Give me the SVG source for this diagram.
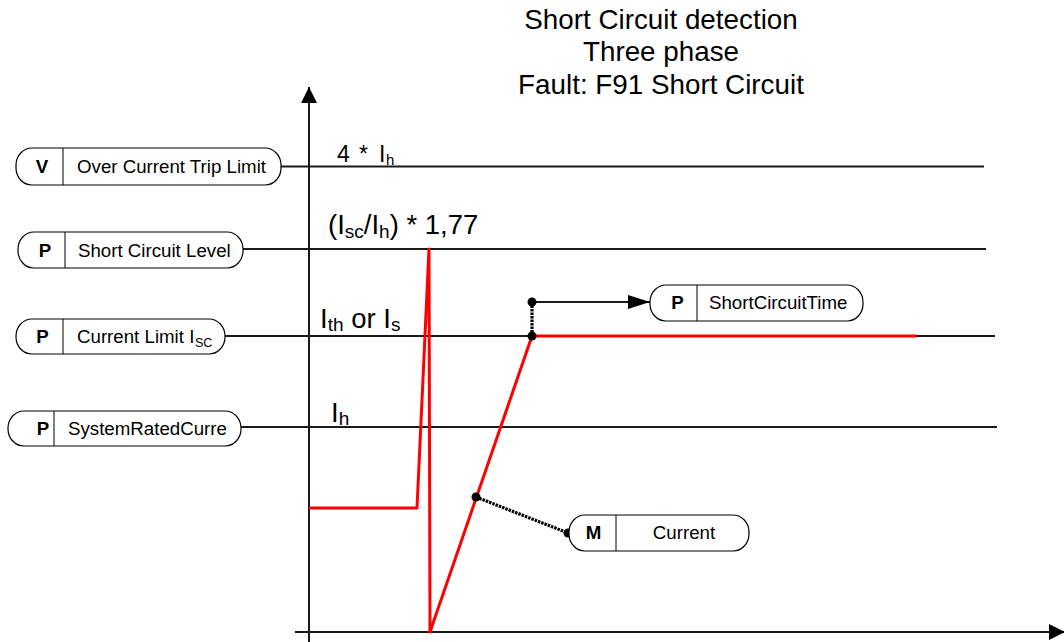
<svg xmlns="http://www.w3.org/2000/svg" width="1064" height="642" viewBox="0 0 1064 642">
<style>
  text { font-family: "Liberation Sans", Arial, sans-serif; fill: #000; }
  .title { font-size: 27.8px; text-anchor: middle; }
  .lbl { font-size: 27.5px; }
  .sub { font-size: 19px; }
  .nt { font-size: 18.7px; }
  .nb { font-size: 18.7px; font-weight: bold; text-anchor: middle; }
  .pill { fill: #fff; stroke: #000; stroke-width: 1.2; }
  .div { stroke: #000; stroke-width: 1; }
  .ln { stroke: #1a1a1a; stroke-width: 2; fill: none; }
  .red { stroke: #ff0000; stroke-width: 3; fill: none; stroke-linejoin: round; }
  .dot { stroke: #000; stroke-width: 3.2; stroke-dasharray: 2.5 1; fill: none; }
</style>
<defs>
  <marker id="ah" markerWidth="22" markerHeight="14" refX="22" refY="7" orient="auto" markerUnits="userSpaceOnUse">
    <path d="M0,0 L22,7 L0,14 Z" fill="#000"/>
  </marker>
  <marker id="ax" markerWidth="16" markerHeight="22" refX="16" refY="8" orient="auto" markerUnits="userSpaceOnUse">
    <path d="M0,0 L16,8 L0,16 Z" fill="#000"/>
  </marker>
</defs>
<rect width="1064" height="642" fill="#fff"/>

<g id="title">
  <text class="title" x="661" y="29">Short Circuit detection</text>
  <text class="title" x="661" y="61">Three phase</text>
  <text class="title" x="661" y="94">Fault: F91 Short Circuit</text>
</g>

<g id="axes">
  <line class="ln" x1="309" y1="642" x2="309" y2="87" marker-end="url(#ax)"/>
  <line class="ln" x1="295" y1="632" x2="1065" y2="632" marker-end="url(#ax)"/>
</g>

<g id="connectors">
  <line class="ln" x1="281" y1="166.5" x2="984" y2="166.5"/>
  <line class="ln" x1="243" y1="249" x2="986" y2="249"/>
  <line class="ln" x1="225" y1="336" x2="995" y2="336"/>
  <line class="ln" x1="241" y1="427" x2="997" y2="427"/>
  <path class="red" d="M309,508 H417 L429,249 L430,632 L532,336 H917"/>
  <line class="dot" x1="532" y1="302" x2="532" y2="336"/>
  <line class="ln" x1="532" y1="302" x2="650" y2="302" marker-end="url(#ah)"/>
  <line class="dot" x1="476" y1="497" x2="568" y2="533"/>
  <circle cx="532" cy="302" r="4.5" fill="#000"/>
  <circle cx="532" cy="336" r="4.5" fill="#000"/>
  <circle cx="476" cy="497" r="4.5" fill="#000"/>
  <circle cx="568" cy="533" r="4.5" fill="#000"/>
</g>

<g id="labels">
  <text style="font-size:23px"><tspan x="337" y="162">4</tspan><tspan x="359" y="162">*</tspan><tspan x="379" y="162">I</tspan><tspan x="386" y="165" style="font-size:15px">h</tspan></text>
  <text class="lbl" x="328" y="234">(I<tspan class="sub" dy="4">sc</tspan><tspan dy="-4">/I</tspan><tspan class="sub" dy="4">h</tspan><tspan dy="-4">) * 1,77</tspan></text>
  <text class="lbl" x="320" y="328">I<tspan class="sub" dy="3">th</tspan><tspan dy="-3"> or I</tspan><tspan class="sub" dy="3">s</tspan></text>
  <text class="lbl" x="331" y="422">I<tspan class="sub" dy="3">h</tspan></text>
</g>

<g id="node-overcurrent">
  <rect class="pill" x="16" y="148" width="265" height="37" rx="16" ry="17"/>
  <line class="div" x1="63" y1="148" x2="63" y2="185"/>
  <text class="nb" x="42" y="173">V</text>
  <text class="nt" x="77" y="173">Over Current Trip Limit</text>
</g>

<g id="node-shortcircuitlevel">
  <rect class="pill" x="18" y="232" width="225" height="36" rx="16" ry="17"/>
  <line class="div" x1="65" y1="232" x2="65" y2="268"/>
  <text class="nb" x="45" y="257">P</text>
  <text class="nt" x="78" y="257">Short Circuit Level</text>
</g>

<g id="node-currentlimit">
  <rect class="pill" x="16" y="319" width="209" height="35" rx="16" ry="17"/>
  <line class="div" x1="63" y1="319" x2="63" y2="354"/>
  <text class="nb" x="42.5" y="343">P</text>
  <text class="nt" x="77" y="343">Current Limit I<tspan x="195" y="347" style="font-size:12.5px">SC</tspan></text>
</g>

<g id="node-systemrated">
  <rect class="pill" x="8" y="411" width="233" height="35" rx="16" ry="17"/>
  <line class="div" x1="54" y1="411" x2="54" y2="446"/>
  <text class="nb" x="43" y="435">P</text>
  <text class="nt" x="68" y="435">SystemRatedCurre</text>
</g>

<g id="node-shortcircuittime">
  <rect class="pill" x="650" y="285" width="213" height="36" rx="16" ry="17"/>
  <line class="div" x1="697" y1="285" x2="697" y2="321"/>
  <text class="nb" x="677.5" y="309">P</text>
  <text class="nt" x="709" y="309">ShortCircuitTime</text>
</g>

<g id="node-current">
  <rect class="pill" x="569" y="515" width="180" height="36" rx="16" ry="17"/>
  <line class="div" x1="616" y1="515" x2="616" y2="551"/>
  <text class="nb" x="593.5" y="539">M</text>
  <text class="nt" x="684" y="539" text-anchor="middle">Current</text>
</g>
</svg>
